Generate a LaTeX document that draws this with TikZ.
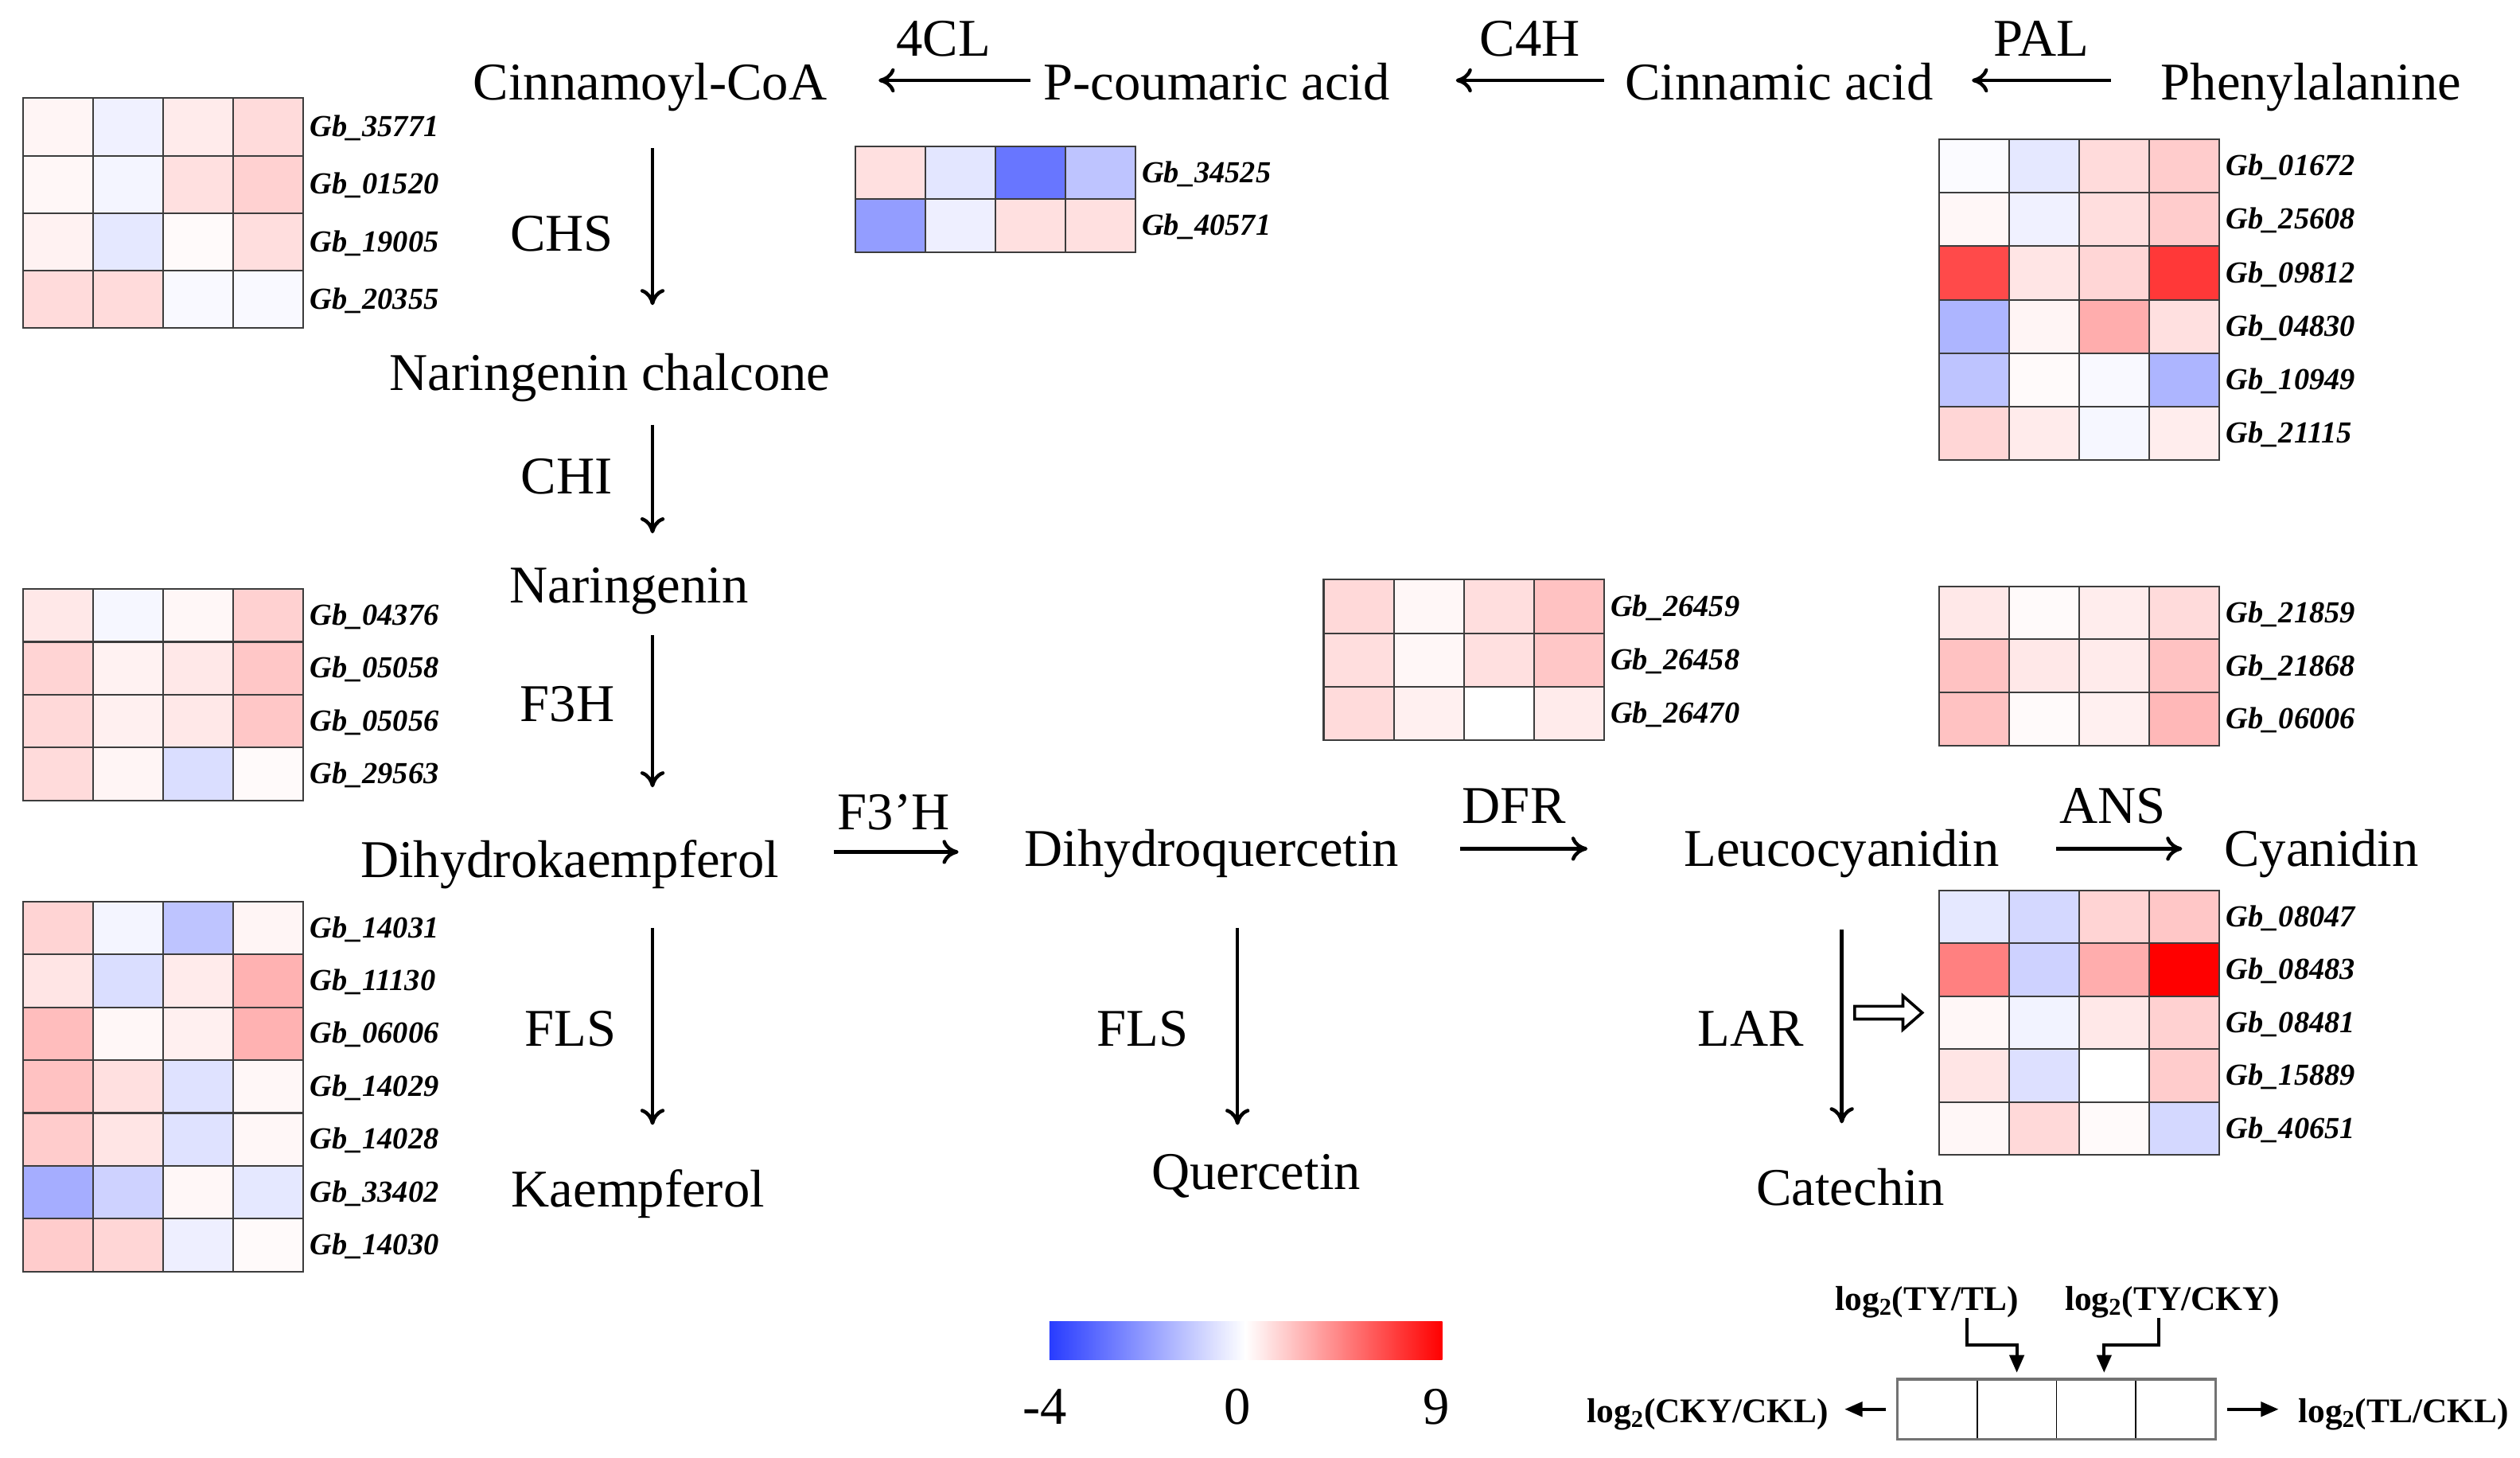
\documentclass[tikz,border=0pt]{standalone}
\usepackage{fontspec}
\setmainfont{Liberation Serif}
\usetikzlibrary{arrows.meta}

\definecolor{hmred}{RGB}{255,0,0}
\definecolor{hmblue}{RGB}{40,60,255}
\definecolor{hmgrid}{RGB}{60,60,60}

\def \cellw {43.6}
\newcommand{\metabfont}{\fontsize{33}{39}\selectfont}
\newcommand{\genefont}{\fontsize{19}{22}\selectfont\bfseries\itshape}
\newcommand{\keyfont}{\fontsize{21.5}{24}\selectfont\bfseries}

% name, left x, top y, row height, rows {values}/gene
\newcommand{\heatmap}[5]{%
  \foreach \vals/\gname [count=\hmr from 0] in {#5} {
    \foreach \v [count=\hmc from 0] in \vals {
      \ifnum\v<0 \edef\hmcol{hmblue!\number-\v}\else\edef\hmcol{hmred!\v}\fi
      \filldraw[fill=\hmcol, draw=hmgrid, line width=1pt] ({#2+\hmc*\cellw},{#3+\hmr*#4}) rectangle ++(\cellw,#4);
    }
    \node[gene] (#1-\hmr) at ({#2+4*\cellw+4},{#3+(\hmr+0.5)*#4+6}) {\gname};
  }%
}

\tikzset{
  metab/.style={font=\metabfont, inner sep=0pt, text height=22pt, text depth=7pt, anchor=base},
  enzyme/.style={font=\metabfont, inner sep=0pt, anchor=base},
  gene/.style={font=\genefont, inner sep=0pt, anchor=base west},
  keylab/.style={font=\keyfont, inner sep=0pt, anchor=base},
  flow/.style={-{To[length=10pt,width=15pt]}, line width=2.2pt},
  keyarrow/.style={-{Triangle[length=11pt,width=9pt]}, line width=2pt},
  keycell/.style={draw=black, line width=0.8pt, minimum width=49.3pt, minimum height=36.7pt, inner sep=0pt},
}

\begin{document}
\begin{tikzpicture}[x=1pt, y=-1pt]
\useasboundingbox (0,0) rectangle (1568,907);

\coordinate (rowT) at (0,50);
\coordinate (rowF) at (0,530);
\coordinate (rowM) at (0,528);
\coordinate (colL) at (406,0);
\coordinate (colM) at (770,0);
\coordinate (colR) at (1146,0);

% metabolites
\node[metab] (cin) at (404.5,62) {Cinnamoyl-CoA};
\node[metab] (pcou) at (757,62) {P-coumaric acid};
\node[metab] (cinn) at (1107,62) {Cinnamic acid};
\node[metab] (phe) at (1438,62) {Phenylalanine};
\node[metab] (nchal) at (379.5,243) {Naringenin chalcone};
\node[metab] (ning) at (391.5,375) {Naringenin};
\node[metab] (dihk) at (354.5,546) {Dihydrokaempferol};
\node[metab] (dihq) at (754,539) {Dihydroquercetin};
\node[metab] (leuco) at (1146,539) {Leucocyanidin};
\node[metab] (cyan) at (1444.5,539) {Cyanidin};
\node[metab] (kaem) at (397,751) {Kaempferol};
\node[metab] (querc) at (781.5,740) {Quercetin};
\node[metab] (cat) at (1151.5,750) {Catechin};

% enzymes
\node[enzyme] (e4cl) at (587,35) {4CL};
\node[enzyme] (ec4h) at (952,35) {C4H};
\node[enzyme] (epal) at (1270,35) {PAL};
\node[enzyme] (echs) at (349.5,156) {CHS};
\node[enzyme] (echi) at (352.5,307) {CHI};
\node[enzyme] (ef3h) at (353,449) {F3H};
\node[enzyme] (ef3ph) at (556,516) {F3’H};
\node[enzyme] (edfr) at (942,512) {DFR};
\node[enzyme] (eans) at (1314.5,512) {ANS};
\node[enzyme] (efls) at (355,651) {FLS};
\node[enzyme] (eflsq) at (711,651) {FLS};
\node[enzyme] (elar) at (1089.5,651) {LAR};

% pathway
\draw[flow, shorten <=8pt, shorten >=32pt] (pcou.west |- rowT) -- (cin.east |- rowT);
\draw[flow, shorten <=13pt, shorten >=41pt] (cinn.west |- rowT) -- (pcou.east |- rowT);
\draw[flow, shorten <=31pt, shorten >=24pt] (phe.west |- rowT) -- (cinn.east |- rowT);
\draw[flow, shorten <=23pt, shorten >=31pt] (cin.south -| colL) -- (nchal.north -| colL);
\draw[flow, shorten <=14pt, shorten >=21pt] (nchal.south -| colL) -- (ning.north -| colL);
\draw[flow, shorten <=13pt, shorten >=34pt] (ning.south -| colL) -- (dihk.north -| colL);
\draw[flow, shorten <=34pt, shorten >=41pt] (dihk.east |- rowF) -- (dihq.west |- rowF);
\draw[flow, shorten <=38pt, shorten >=60pt] (dihq.east |- rowM) -- (leuco.west |- rowM);
\draw[flow, shorten <=35pt, shorten >=26pt] (leuco.east |- rowM) -- (cyan.west |- rowM);
\draw[flow, shorten <=24pt, shorten >=29pt] (dihk.south -| colL) -- (kaem.north -| colL);
\draw[flow, shorten <=31pt, shorten >=18pt] (dihq.south -| colM) -- (querc.north -| colM);
\draw[flow, shorten <=32pt, shorten >=29pt] (leuco.south -| colR) -- (cat.north -| colR);
\draw[line width=1.8pt, fill=white] (1154,626) -- (1184,626) -- (1184,619.5) -- (1196,630) -- (1184,640.5) -- (1184,634) -- (1154,634) -- cycle;

% heatmaps
\heatmap{chs}{14.2}{61}{35.8}{{4,-7,8,14}/Gb\_35771,{3,-5,12,18}/Gb\_01520,{5,-12,2,13}/Gb\_19005,{14,14,-3,-3}/Gb\_20355}
\heatmap{fcl}{532}{91}{33}{{12,-13,-70,-30}/Gb\_34525,{-50,-8,12,12}/Gb\_40571}
\heatmap{pal}{1206.6}{86.6}{33.3}{{-2,-12,14,20}/Gb\_01672,{3,-7,13,20}/Gb\_25608,{71,10,16,78}/Gb\_09812,{-38,4,32,12}/Gb\_04830,{-30,2,-3,-38}/Gb\_10949,{16,8,-4,7}/Gb\_21115}
\heatmap{fth}{14.2}{366.4}{32.9}{{9,-4,3,18}/Gb\_04376,{17,5,9,22}/Gb\_05058,{15,6,9,22}/Gb\_05056,{14,4,-17,2}/Gb\_29563}
\heatmap{dfr}{823.6}{360.6}{33.3}{{15,3,13,24}/Gb\_26459,{13,3,12,22}/Gb\_26458,{14,6,0,8}/Gb\_26470}
\heatmap{ans}{1206.6}{364.7}{33.1}{{9,2,7,14}/Gb\_21859,{24,9,8,24}/Gb\_21868,{24,2,6,28}/Gb\_06006}
\heatmap{fls}{14.2}{560.8}{32.9}{{17,-5,-30,4}/Gb\_14031,{10,-17,8,30}/Gb\_11130,{26,3,6,30}/Gb\_06006,{24,12,-15,3}/Gb\_14029,{20,10,-15,3}/Gb\_14028,{-42,-23,3,-12}/Gb\_33402,{20,16,-8,2}/Gb\_14030}
\heatmap{lar}{1206.6}{554}{32.9}{{-12,-20,17,22}/Gb\_08047,{50,-23,32,100}/Gb\_08483,{3,-6,9,18}/Gb\_08481,{10,-16,0,20}/Gb\_15889,{3,15,2,-20}/Gb\_40651}

% colour scale
\shade[left color=hmblue, right color=white] (653,822) rectangle (775,846);
\shade[left color=white, right color=hmred] (775,822) rectangle (897.4,846);
\node[enzyme] (lmin) at (650,886) {-4};
\node[enzyme] (lzero) at (770,886) {0};
\node[enzyme] (lmax) at (893.6,886) {9};

% key
\node[keycell] (k1) at (1205.6,876.7) {};
\node[keycell] (k2) at (1254.9,876.7) {};
\node[keycell] (k3) at (1304.2,876.7) {};
\node[keycell] (k4) at (1353.5,876.7) {};
\draw[black!55, line width=1.6pt] (k1.north west) rectangle (k4.south east);
\node[keylab] (ktl) at (1199,815) {log\textsubscript{2}(TY/TL)};
\node[keylab] (kcy) at (1351.5,815) {log\textsubscript{2}(TY/CKY)};
\node[keylab] (kckl) at (1062.5,885) {log\textsubscript{2}(CKY/CKL)};
\node[keylab] (ktlc) at (1495.5,885) {log\textsubscript{2}(TL/CKL)};
\draw[keyarrow, shorten >=4pt] ([xshift=25pt]ktl.south) -- ++(0,17) -| (k2.north);
\draw[keyarrow, shorten >=4pt] ([xshift=-8.5pt]kcy.south) -- ++(0,17) -| ([xshift=5pt]k3.north);
\draw[keyarrow, shorten <=7pt, shorten >=10pt] (k1.west) -- (kckl.east |- k1.west);
\draw[keyarrow, shorten <=7pt, shorten >=12pt] (k4.east) -- (ktlc.west |- k4.east);
\end{tikzpicture}
\end{document}
